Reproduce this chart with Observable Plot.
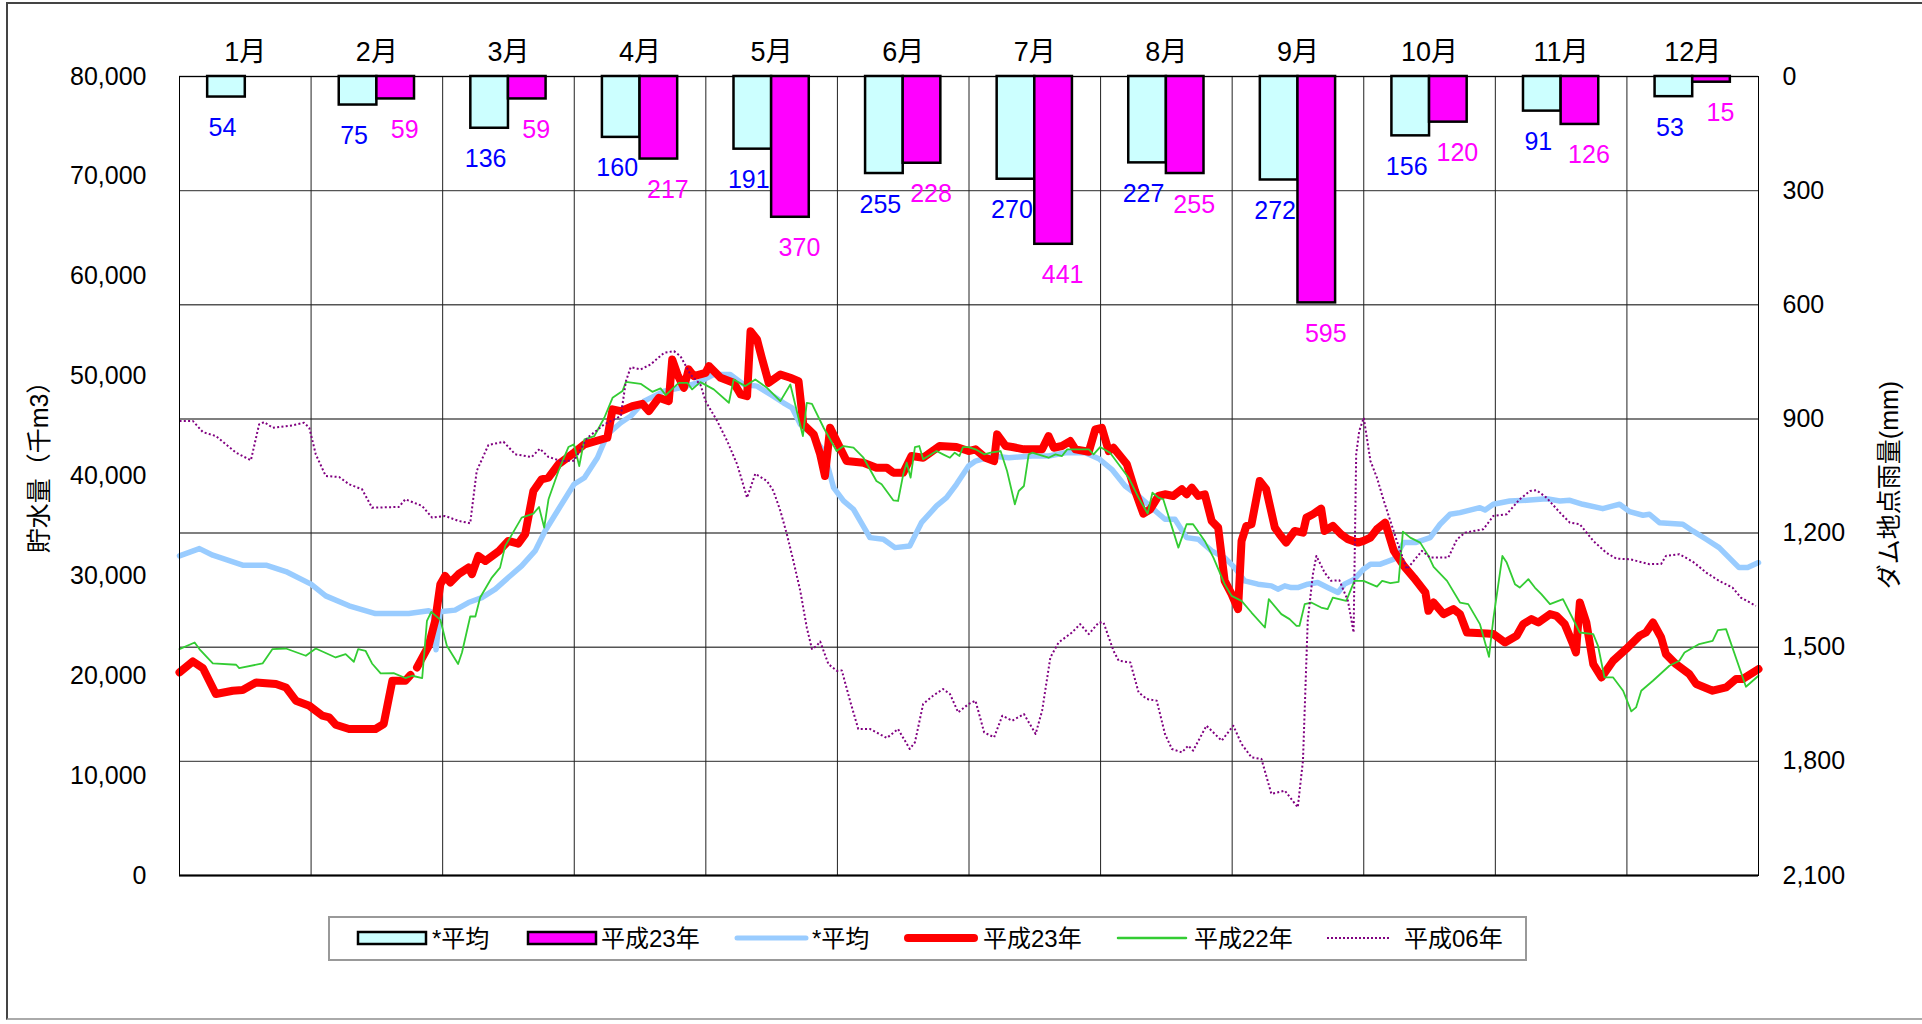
<!DOCTYPE html>
<html><head><meta charset="utf-8">
<script src="https://cdn.jsdelivr.net/npm/d3@7"></script>
<script src="https://cdn.jsdelivr.net/npm/@observablehq/plot@0.6"></script>
<style>
html,body{margin:0;padding:0;background:#fff;}
#wrap{position:relative;width:1922px;height:1024px;overflow:hidden;font-family:"Liberation Sans","Noto Sans CJK JP",sans-serif;color:#000;}
#frame{position:absolute;left:6px;top:2px;width:2000px;height:1018px;border:2px solid #444;border-bottom-color:#aaa;box-sizing:border-box;}
#chart{position:absolute;left:0;top:0;}
.ytitle{position:absolute;white-space:nowrap;font-size:25px;line-height:1;transform:translate(-50%,-50%) rotate(-90deg);font-family:"Liberation Sans","Noto Sans CJK JP",sans-serif;}
#legend{position:absolute;left:328px;top:916px;}
</style></head>
<body><div id="wrap"><div id="frame"></div><div id="chart"></div>
<div class="ytitle" style="left:39px;top:461px">貯水量（千m3）</div>
<div class="ytitle" style="left:1889px;top:485px">ダム地点雨量(mm)</div>
<div id="legend"></div>
</div>
<script>
// ---------- data ----------
const months = ["1月","2月","3月","4月","5月","6月","7月","8月","9月","10月","11月","12月"];
const rainAvg = [54,75,136,160,191,255,270,227,272,156,91,53];
const rainH23 = [null,59,59,217,370,228,441,255,595,120,126,15];
const storageTicks = [0,10000,20000,30000,40000,50000,60000,70000,80000];
const rainTicks = [0,300,600,900,1200,1500,1800,2100];

// [day of year, storage (千m3)]
const storageAvg = [[0,32000],[4.6,32730],[7.7,32070],[14.6,31070],[20,31070],[24.6,30430],[30.4,29170],[33.8,28000],[39.2,27000],[45.3,26230],[53,26230],[57.6,26500],[58.6,26300],[59.3,22600],[60.2,26300],[60.7,26430],[63.7,26570],[66.8,27330],[69.9,27830],[73,28670],[76,29830],[79.1,31000],[82.2,32500],[84.5,34500],[87.6,36670],[91.2,39170],
[93.6,39830],[96.6,41830],[98.9,44170],[102,45330],[104.3,46000],[107.4,47500],[112,48500],[115.8,48830],[119.7,49330],[123.5,50170],[127.3,50170],[130.4,49170],[133.5,49000],[136.6,48170],[139.6,47330],[141.6,46830],[143.5,45170],[145.8,44330],[148.9,42500],[151.2,38830],[153.5,37500],[155.8,36670],[159.6,33830],[162.7,33670],[165.4,32830],[168.8,33000],[171.5,35330],[175,37000],[177.3,37830],[179.6,39170],[182.4,41000],
[184,41500],[187.9,42000],[191.7,41830],[194,41900],[197.1,42000],[200.9,42000],[204.8,42330],[209.4,42330],[212.5,41730],[215.5,40670],[218.6,39000],[221.7,38000],[224.7,36830],[227.8,35670],[230.1,35670],[232.8,33830],[235.5,33670],[238.6,32500],[241.6,31830],[243.9,30830],[246.2,29500],[249.3,29170],[252.4,29000],[253.9,28670],[255.5,29000],[257,28830],[258.5,28830],[260.8,29170],[263.1,29330],[265.4,28830],[267.8,28330],[269.3,29170],[271.6,29670],[273.7,30670],
[275.3,31170],[277.6,31170],[280.7,31670],[283,33330],[285.7,33330],[289.1,33830],[291.4,35170],[293.7,36170],[296,36330],[300.6,36830],[301.8,36600],[303.7,37170],[307.5,37500],[311.4,37570],[316,37730],[319.1,37500],[321.4,37570],[324.4,37170],[329,36730],[331.4,37000],[332.9,37170],[335.2,36430],[338.3,36070],[339.8,36170],[342.1,35330],[347.5,35170],[349.8,34500],[352.9,33670],[355.9,32830],[358.2,31830],[360.5,30830],[362.5,30830],[365,31330]];

const storageH23 = [[0,20330],[3.1,21430],[5.4,20770],[8.4,18170],[12.3,18500],[14.6,18570],[17.7,19330],[22.3,19170],[24.6,18830],[26.9,17500],[30,17000],[33,16000],[34.6,15830],[36.1,15100],[39.2,14670],[42.2,14670],[45.3,14670],[47.2,15170],[49.2,19500],[52.2,19500],[53.4,20070],[54.1,null],[54.9,20830],[57.6,23000],[59.1,25500],[60.3,29170],[61.4,30000],[62.6,29330],[64.5,30170],[66.8,30830],[67.6,30170],[69.1,32000],[70.7,31500],[73.7,32430],[76,33500],[78.3,33230],[79.9,34170],[81.8,38500],[83.7,39670],[85.3,39830],[87.6,41170],[91.2,42330],
[93.6,43170],[98.9,43830],[100.1,46670],[102,46500],[104.7,47000],[107,47230],[108.5,46500],[110.8,47830],[113.1,47500],[113.9,51670],[115.1,50170],[116.6,48830],[117.7,50670],[118.9,50000],[121.6,50330],[122.4,51000],[125.1,49830],[128.1,49330],[129.7,48170],[131.2,48000],[132,54500],[133.5,53670],[134.6,51830],[136.2,49330],[138.9,50170],[141.2,49830],[143.1,49500],[144.2,45170],[146.6,44170],[148.1,42170],[149.2,40000],[150.4,44830],[151.9,43500],[154.2,41500],[158.1,41330],[161.1,40830],[163.5,40830],[165,40330],[167.3,40330],[169.2,42000],[171.9,41830],[175.7,43000],[179.6,42900],[182.4,42500],
[184,42670],[186.3,41830],[188.3,41500],[189,44170],[191,43000],[192.5,42900],[195.2,42670],[199.4,42670],[200.9,44000],[202.1,42830],[204,43000],[205.9,43500],[207.1,42670],[210.2,42430],[211.7,44670],[213.2,44830],[214.8,42500],[215.9,42830],[219,41170],[220.9,38500],[222.8,36230],[224.4,36670],[226.3,38000],[227.8,38170],[229.7,38000],[231.7,38670],[232.8,38170],[234,38830],[235.5,38000],[237,38170],[238.6,35500],[240.1,34830],[241.6,29500],[243.2,28170],[244.7,26670],[245.5,33500],[246.6,35000],[247.8,35170],[249.7,39500],[251.2,38670],[253.2,34830],[254.3,34170],[255.8,33330],[257.8,34500],[259.7,34330],[260.5,35830],[262,36170],[263.9,36730],[264.7,34500],[266.6,35000],[268.5,34170],[270.1,33670],[272.4,33330],[273.7,33500],
[275.3,33830],[276.8,34670],[278.7,35330],[280.7,32500],[283,31000],[285.3,29830],[288,28330],[288.7,26500],[289.9,27330],[292.2,26170],[294.5,26670],[296,26170],[297.6,24330],[302.2,24230],[303.7,24170],[306.4,23330],[309.1,24000],[310.6,25170],[312.5,25670],[314.1,25330],[316.8,26170],[318.3,26000],[320.2,25170],[322.1,23170],[322.8,22330],[323.7,27330],[325.2,25330],[326.8,21170],[328.7,19830],[331.4,21500],[334.4,22670],[337.5,24000],[339,24330],[340.6,25330],[342.5,23830],[343.6,22170],[345.9,21170],[349,20170],[350.6,19170],[354.4,18500],[357.5,18830],[359.8,19670],[361.3,19670],[365,20670]];

const storageH22 = [[0,22670],[3.5,23330],[4.6,22670],[7.7,21230],[13.1,21100],[13.8,20770],[19.2,21230],[21.5,22670],[24.6,22730],[29.2,22000],[31.5,22730],[36.1,21830],[38.4,22170],[40.3,21400],[41.3,22670],[43,22500],[44.5,21230],[46.5,20230],[49.5,20270],[52.2,19770],[53.8,20000],[56.1,19770],[57.2,25500],[58.2,26400],[60.3,25600],[61.8,23000],[64.4,21170],[65.3,22330],[67.2,25930],[68.4,25930],[69.5,27830],[72.2,29830],[74.1,30830],[75.3,33000],[79.1,35830],[81.8,36230],[83.1,36900],[84.3,34830],[85.3,37670],[87.6,40500],[89.9,42900],[91.2,43170],
[92.4,41000],[93.6,43670],[95.9,44000],[98.2,45830],[100.1,47830],[102.4,48500],[103.2,49430],[106.6,49230],[109.3,48430],[111.2,48770],[112.4,48100],[115.4,49330],[117.4,49330],[118.5,48670],[120.4,49400],[123.5,48670],[127,47330],[128.1,49670],[130.8,49000],[133.1,49670],[135.8,48830],[138.9,47500],[141.2,49170],[144.1,44000],[145,47330],[146.2,47230],[148.9,44830],[151.9,42500],[153.5,43000],[155.8,42830],[158.1,41830],[161.1,39500],[162.3,39170],[165,37570],[166.1,37500],[167.3,40170],[168.1,41330],[169,39830],[170,42900],[171,43000],[171.9,41670],[175,42500],[176.5,42170],[178.1,41830],[179.2,42330],[180.3,42000],[181.1,42900],[182.4,42900],
[184,42670],[186,42170],[187.5,42330],[189.8,42500],[191.3,40500],[193.1,37170],[194,38500],[195.2,39000],[196.3,42170],[197.1,42330],[200.9,41830],[202.5,42170],[204,42000],[205.2,42670],[210.2,42670],[211.3,42170],[212.8,42900],[215.1,42330],[219.4,39830],[221.7,37830],[223.8,36230],[224.9,38330],[226.3,37830],[227.4,37670],[230.9,32830],[232.8,35170],[234.3,35170],[237,33500],[239,31830],[241.6,29170],[243.2,28000],[245.5,27500],[247.8,26330],[250.9,24830],[251.8,27670],[254.7,26170],[256.6,25670],[258.2,25000],[258.9,25000],[260.1,27170],[261.6,27330],[263.9,26830],[265.4,26670],[266.6,27830],[269.7,27500],[271.6,29500],[273.7,29500],
[276.8,28930],[278,29500],[279.9,29270],[281.8,29400],[282.8,34430],[284.5,33830],[286.8,33330],[288.7,32000],[289.9,30900],[293,29500],[296,27330],[297.9,27170],[300.6,25170],[302.7,21900],[303.7,25670],[305.8,32000],[306.8,31330],[308.7,29170],[309.8,28830],[311.8,29670],[313.3,28830],[314.8,28170],[316.8,27170],[319.8,27670],[323.7,24330],[326.8,24170],[327.9,23000],[329.4,19830],[331.4,19830],[333.7,18500],[335.6,16430],[336.7,16830],[337.9,18500],[340.6,19500],[344.4,21000],[346.7,21500],[347.9,22330],[351.3,23170],[354.4,23500],[355.6,24570],[357.5,24670],[362.1,18900],[365,20000]];

const storageH06 = [[0,45500],[3.1,45500],[5.4,44400],[8.4,44000],[13.1,42330],[16.5,41570],[18.4,45170],[19.6,45400],[21.5,44830],[26.1,45070],[28.8,45330],[30,44830],[31.5,42170],[33.8,40000],[36.9,39900],[39.2,39170],[42.2,38670],[44.5,36830],[50.7,36900],[52.2,37670],[56.1,37000],[58.4,35830],[61.4,36000],[64.5,35500],[67.2,35270],[68.7,40500],[71.4,43100],[74.9,43430],[77.6,42170],[81.4,41900],[83.3,42730],[85.3,41900],[88.3,41500],[91.2,41530],
[94.3,43830],[98.2,45170],[102,46000],[103.2,49500],[104.3,50900],[106.6,50670],[108.9,51170],[112,52330],[114.3,52500],[115.8,52000],[118.1,50170],[120.4,49170],[121.6,47500],[124.3,45500],[126.6,43500],[128.9,41170],[131.2,37830],[133.1,40230],[135.8,39500],[137.3,38500],[138.9,36500],[140.4,34170],[141.9,31500],[143.5,28500],[145,24830],[146.2,22670],[147.3,23000],[148.1,23430],[150,21170],[151.9,20500],[153.1,20530],[155,17500],[156.9,14670],[159.6,14670],[163.5,13770],[166.1,14670],[168.8,12670],[170,13330],[171.9,17170],[174.2,18000],[176.5,18670],[178.1,18170],[180,16330],[182.4,17170],
[184,17500],[186,14330],[188.3,13830],[190.2,16000],[192.5,15500],[195.2,16170],[197.9,14170],[199.4,16500],[201.3,21830],[203.2,23330],[206.3,24330],[208.2,25170],[210.2,24170],[212.5,25330],[213.6,25330],[215.9,22500],[217.1,21500],[219.8,21330],[221.7,18330],[223.6,17670],[225.9,17500],[227.8,14170],[229.4,12670],[231.7,12330],[233.2,13000],[234.3,12500],[237.4,15000],[240.9,13500],[243.6,15000],[245.5,13170],[247.8,11830],[250.1,11670],[252.4,8170],[255.5,8500],[258.5,6830],[259.7,11500],[260.8,25500],[262,30170],[262.8,32000],[264.7,30330],[266.2,29500],[268.1,29570],[270.1,27500],[271.4,24330],[272,42170],[272.7,44500],[273.75,45830],
[275.3,41500],[276.8,39830],[278.4,37500],[279.9,35500],[281.4,33500],[283.7,30670],[285.3,31500],[287.2,32500],[289.1,31830],[293.3,31830],[295.3,33670],[297.2,34330],[301.4,34670],[303.7,36000],[306.8,36170],[309.8,37670],[312.2,38500],[313.7,38570],[316,37830],[319.1,36330],[321.4,35330],[323.7,35170],[326.8,33500],[329.8,32330],[332.1,31730],[335.2,31670],[339.8,31170],[342.5,31200],[343.6,32000],[346.7,32170],[349.8,31430],[352.9,30330],[355.9,29500],[359,28830],[360.9,27830],[364.4,27000]];

// ---------- helpers ----------
const DAYS = 365, MD = DAYS / 12;
const SMAX = 80000, RMAX = 2100;
const rainToY = r => SMAX - r / RMAX * SMAX;
const yToRain = v => (SMAX - v) / SMAX * RMAX;
const BW = 0.286; // bar width in month units
const fmt = d3.format(",");
const FONT = '"Liberation Sans","Noto Sans CJK JP",sans-serif';

const barsAvg = rainAvg.map((v, i) => ({i, v})).filter(d => d.v != null);
const barsH23 = rainH23.map((v, i) => ({i, v})).filter(d => d.v != null);
const monthBounds = d3.range(1, 12).map(m => m * MD);
const monthLabels = months.map((m, i) => ({i, m}));

const lineOpts = {x: d => d[0], y: d => d[1], curve: "linear", strokeLinejoin: "round", strokeLinecap: "round"};

const chart = Plot.plot({
  width: 1922, height: 900,
  marginTop: 76, marginBottom: 25, marginLeft: 179, marginRight: 164,
  x: {domain: [0, DAYS], axis: null},
  y: {domain: [0, SMAX]},
  style: {fontFamily: FONT, fontSize: "25px", color: "#000", background: "transparent", overflow: "visible"},
  marks: [
    Plot.ruleY(rainTicks.map(rainToY), {stroke: "#555", strokeWidth: 1.4}),
    Plot.ruleX(monthBounds, {stroke: "#222", strokeWidth: 1}),
    Plot.rect(barsAvg, {x1: d => (d.i + 0.5 - BW) * MD, x2: d => (d.i + 0.5) * MD, y1: SMAX, y2: d => rainToY(d.v), fill: "#CCFFFF", stroke: "#000", strokeWidth: 2.5}),
    Plot.rect(barsH23, {x1: d => (d.i + 0.5) * MD, x2: d => (d.i + 0.5 + BW) * MD, y1: SMAX, y2: d => rainToY(d.v), fill: "#FF00FF", stroke: "#000", strokeWidth: 2.5}),
    Plot.text(barsAvg, {x: d => (d.i + 0.5 - BW / 2) * MD, y: d => rainToY(d.v), text: d => String(d.v), dy: 31, dx: -4, fill: "#0000FF", fontSize: 25}),
    Plot.text(barsH23, {x: d => (d.i + 0.5 + BW / 2) * MD, y: d => rainToY(d.v), text: d => String(d.v), dy: 31, dx: 9, fill: "#FF00FF", fontSize: 25}),
    Plot.line(storageAvg, {...lineOpts, stroke: "#99CCFF", strokeWidth: 5.5}),
    Plot.line(storageH23, {...lineOpts, stroke: "#FF0000", strokeWidth: 8}),
    Plot.line(storageH22, {...lineOpts, stroke: "#33CC33", strokeWidth: 1.8}),
    Plot.line(storageH06, {...lineOpts, stroke: "#800080", strokeWidth: 2, strokeDasharray: "2,2.3", strokeLinecap: "butt"}),
    Plot.frame({stroke: "#000", strokeWidth: 1}),
    Plot.ruleY([0], {stroke: "#000", strokeWidth: 2}),
    Plot.axisY({anchor: "left", ticks: storageTicks, tickFormat: fmt, tickSize: 0, tickPadding: 33, fontSize: 25, label: null}),
    Plot.axisY({anchor: "right", ticks: rainTicks.map(rainToY), tickFormat: v => fmt(Math.round(yToRain(v))), tickSize: 0, tickPadding: 24, fontSize: 25, label: null}),
    Plot.text(monthLabels, {x: d => (d.i + 0.5) * MD, frameAnchor: "top", dy: -35, text: "m", fontSize: 27, fill: "#000"})
  ]
});
document.getElementById("chart").appendChild(chart);

// ---------- legend ----------
const lg = d3.select("#legend").append("svg").attr("width", 1200).attr("height", 46)
  .style("font-family", FONT).style("font-size", "24px");
lg.append("rect").attr("x", 1).attr("y", 1).attr("width", 1197).attr("height", 43)
  .attr("fill", "#fff").attr("stroke", "#999").attr("stroke-width", 2);
const cy = 22;
const legendItems = [
  {type: "box", x: 30, fill: "#CCFFFF", label: "*平均", tx: 104},
  {type: "box", x: 200, fill: "#FF00FF", label: "平成23年", tx: 273},
  {type: "line", x: 409, x2: 478, stroke: "#99CCFF", w: 5, label: "*平均", tx: 484},
  {type: "line", x: 580, x2: 646, stroke: "#FF0000", w: 8, label: "平成23年", tx: 655},
  {type: "line", x: 790, x2: 858, stroke: "#33CC33", w: 2.5, label: "平成22年", tx: 866},
  {type: "line", x: 999, x2: 1062, stroke: "#800080", w: 2, dash: "2,2", label: "平成06年", tx: 1076}
];
for (const it of legendItems) {
  if (it.type === "box") {
    lg.append("rect").attr("x", it.x).attr("y", cy - 6).attr("width", 68).attr("height", 12)
      .attr("fill", it.fill).attr("stroke", "#000").attr("stroke-width", 2.5);
  } else {
    lg.append("line").attr("x1", it.x).attr("x2", it.x2).attr("y1", cy).attr("y2", cy)
      .attr("stroke", it.stroke).attr("stroke-width", it.w)
      .attr("stroke-linecap", it.dash ? "butt" : "round")
      .attr("stroke-dasharray", it.dash || null);
  }
  lg.append("text").attr("x", it.tx).attr("y", cy).attr("dy", "0.36em").text(it.label);
}
</script>
</body></html>
